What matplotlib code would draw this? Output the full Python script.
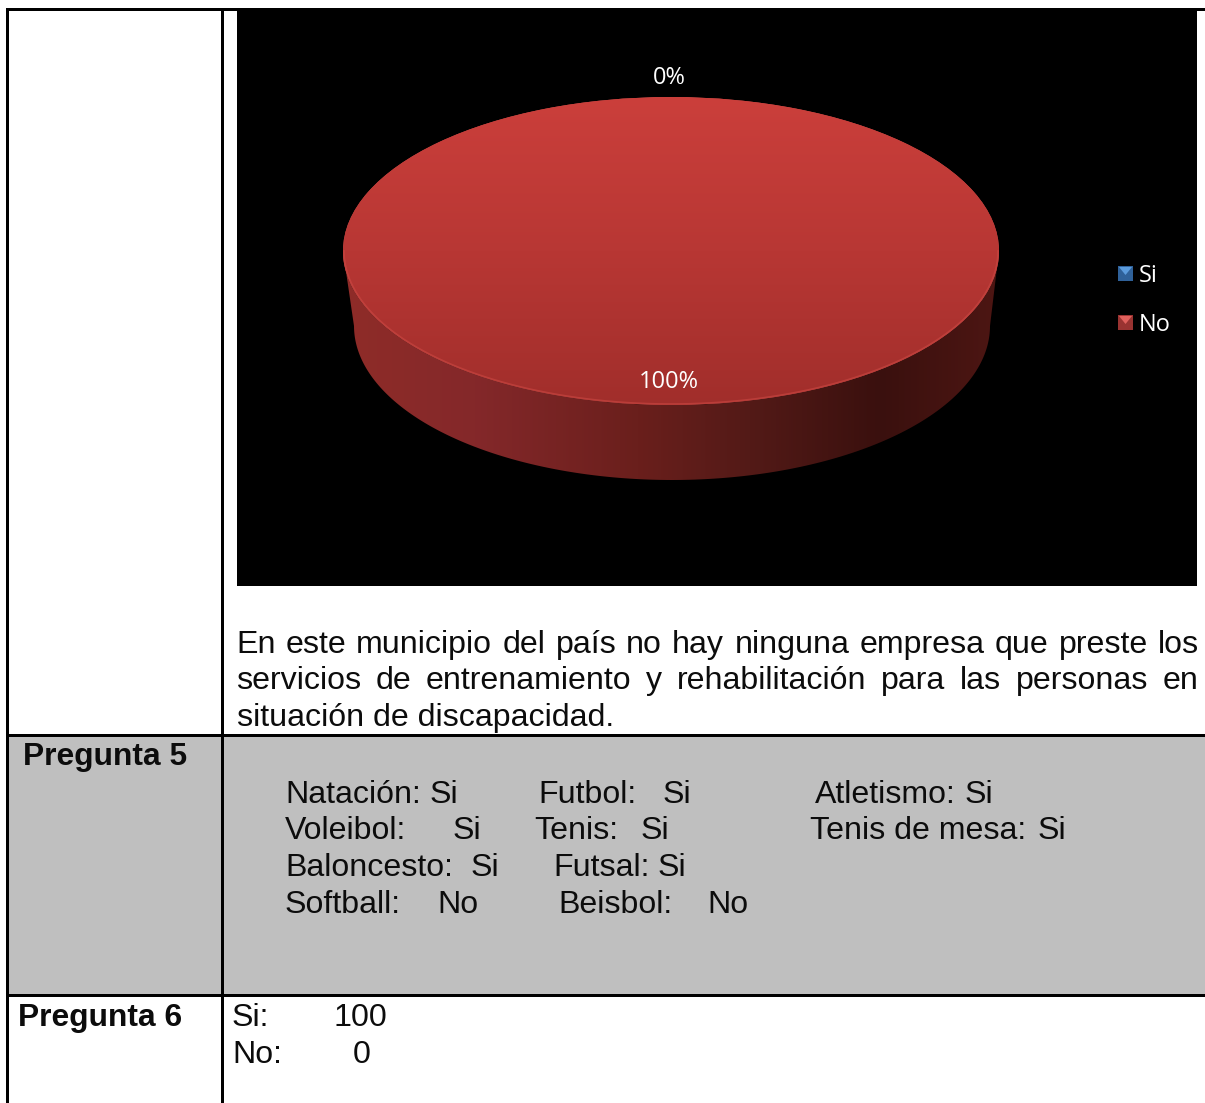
import numpy as np
import matplotlib
matplotlib.use("Agg")
import matplotlib.pyplot as plt
from matplotlib.colors import LinearSegmentedColormap
from matplotlib.patches import Rectangle, Polygon

W, H = 1205, 1103

# ------------------------
# Data
# ------------------------

pie_labels = ["Si", "No"]
pie_values = [0, 100]
pie_texts = ["0%", "100%"]

paragraph = [
    "En este municipio del país no hay ninguna empresa que preste los",
    "servicios de entrenamiento y rehabilitación para las personas en",
    "situación de discapacidad.",
]
row_labels = ["Pregunta 5", "Pregunta 6"]
# label, label x, answer, answer x
col_1 = ["Natación:", "Voleibol:", "Baloncesto:", "Softball:"]
col_1_x = [285, 285, 285, 285]
col_1_ans = ["Si", "Si", "Si", "No"]
col_1_ans_x = [430, 453, 471, 437]
col_2 = ["Futbol:", "Tenis:", "Futsal:", "Beisbol:"]
col_2_x = [538, 534, 553, 558]
col_2_ans = ["Si", "Si", "Si", "No"]
col_2_ans_x = [663, 641, 658, 707]
col_3 = ["Atletismo:", "Tenis de mesa:"]
col_3_x = [815, 810]
col_3_ans = ["Si", "Si"]
col_3_ans_x = [965, 1038]
answers = ["Si:", "No:"]
answer_values = ["100", "0"]

fig = plt.figure(figsize=(W / 100, H / 100), dpi=100, facecolor="white")
ax = fig.add_axes([0, 0, 1, 1])
ax.set_xlim(0, W)
ax.set_ylim(H, 0)
ax.axis("off")

# ------------------------
# Table
# ------------------------

ax.add_patch(Rectangle((9, 737), W - 9, 257, fc="#bfbfbf", ec="none", zorder=1))
ax.add_patch(Rectangle((237, 11), 960, 575, fc="black", ec="none", zorder=1))

for x0, y0, x1, y1 in [(6, 8, W, 11), (6, 734, W, 737), (6, 994, W, 997),
                       (6, 8, 9, H), (221, 8, 224, H)]:
    ax.add_patch(Rectangle((x0, y0), x1 - x0, y1 - y0, fc="black", ec="none", zorder=2))

# ------------------------
# Pie
# ------------------------

cx, cy, rx, ry = 671, 251, 328, 154
bcx, bcy, brx, bry = 672, 326, 318, 154

t = np.linspace(0, np.pi, 200)
wall = np.vstack([
    np.column_stack([cx + rx * np.cos(t), cy + ry * np.sin(t)]),
    np.column_stack([bcx + brx * np.cos(t[::-1]), bcy + bry * np.sin(t[::-1])]),
])
wall_poly = Polygon(wall, closed=True, fc="none", ec="none", transform=ax.transData)
ax.add_patch(wall_poly)
wall_cmap = LinearSegmentedColormap.from_list("wall", [
    (0.0, "#8f2c28"), (0.2, "#84282a"), (0.45, "#6a1f1c"),
    (0.62, "#531a17"), (0.82, "#3a100e"), (1.0, "#4d1613"),
])
wall_img = ax.imshow(np.linspace(0, 1, 256).reshape(1, -1), cmap=wall_cmap, aspect="auto",
                     extent=(cx - rx, cx + rx, 490, 240), zorder=3)
wall_img.set_clip_path(wall_poly)
ax.set_xlim(0, W)
ax.set_ylim(H, 0)

# pie is drawn in its own axes so the circle gets squashed into the tilted ellipse
pie_ax = fig.add_axes([(cx - rx) / W, 1 - (cy + ry) / H, 2 * rx / W, 2 * ry / H])
wedges, _ = pie_ax.pie(pie_values, colors=["#4f81bd", "#c0504d"], startangle=90,
                       radius=1, wedgeprops={"linewidth": 0}, normalize=True)
pie_ax.set_aspect("auto")
pie_ax.set_xlim(-1, 1)
pie_ax.set_ylim(-1, 1)
pie_ax.patch.set_alpha(0)
top_cmap = LinearSegmentedColormap.from_list("top", ["#cb3f3b", "#b83734", "#a12e2b"])
top_img = pie_ax.imshow(np.linspace(0, 1, 256).reshape(-1, 1), cmap=top_cmap, aspect="auto",
                        extent=(-1, 1, -1, 1), origin="upper", zorder=5)
top_img.set_clip_path(wedges[1])
pie_ax.set_xlim(-1, 1)
pie_ax.set_ylim(-1, 1)
pie_ax.set_axis_off()

# light rim along the front of the top face
rim = np.column_stack([cx + (rx - 1) * np.cos(t), cy + (ry - 1) * np.sin(t)])
ax.set_zorder(pie_ax.get_zorder() - 1)
over = fig.add_axes([0, 0, 1, 1], facecolor="none")
over.set_xlim(0, W)
over.set_ylim(H, 0)
over.axis("off")
over.plot(rim[:, 0], rim[:, 1], color="#cf4a45", lw=1.2, alpha=0.55)

over.text(669, 78, pie_texts[0], color="white", fontsize=17, family="Open Sans",
          ha="center", va="center")
over.text(669, 382, pie_texts[1], color="white", fontsize=17, family="Open Sans",
          ha="center", va="center")

# ------------------------
# Legend
# ------------------------

legend_y = [274, 323]
legend_colors = [("#2f6199", "#5b9bdc"), ("#993331", "#e0605c")]
for label, y, (dark, light) in zip(pie_labels, legend_y, legend_colors):
    over.add_patch(Rectangle((1118, y - 8), 15, 15, fc=dark, ec="none"))
    over.add_patch(Polygon([(1119, y - 7), (1132, y - 7), (1125.5, y + 1)], fc=light, ec="none"))
    over.text(1139, y + 2, label, color="white", fontsize=17, family="Open Sans", va="center")

# ------------------------
# Text
# ------------------------

body = dict(color="#0c0c0c", fontsize=23.1, family="Liberation Sans", va="baseline")

renderer = fig.canvas.get_renderer()
for i, line in enumerate(paragraph):
    y = [653, 689, 726][i]
    if i == 2:
        over.text(237, y, line, **body)
        continue
    # justified: stretch the gaps so every line reaches the right edge
    words = line.split(" ")
    items = [over.text(0, y, w, **body) for w in words]
    widths = [it.get_window_extent(renderer).width for it in items]
    gap = (1199 - 236 - sum(widths)) / (len(words) - 1)
    x = 236
    for it, w in zip(items, widths):
        it.set_x(round(x))
        x += w + gap

row_y = [803, 839, 876, 913]
for i in range(4):
    over.text(col_1_x[i], row_y[i], col_1[i], **body)
    over.text(col_1_ans_x[i], row_y[i], col_1_ans[i], **body)
    over.text(col_2_x[i], row_y[i], col_2[i], **body)
    over.text(col_2_ans_x[i], row_y[i], col_2_ans[i], **body)
for i in range(2):
    over.text(col_3_x[i], row_y[i], col_3[i], **body)
    over.text(col_3_ans_x[i], row_y[i], col_3_ans[i], **body)

over.text(23, 765, row_labels[0], color="#0c0c0c", fontsize=22.9, fontweight="bold",
          family="Liberation Sans", va="baseline")
over.text(18, 1026, row_labels[1], color="#0c0c0c", fontsize=22.9, fontweight="bold",
          family="Liberation Sans", va="baseline")

over.text(232, 1026, answers[0], **body)
over.text(333, 1026, answer_values[0], **body)
over.text(232, 1063, answers[1], **body)
over.text(353, 1063, answer_values[1], **body)

fig.savefig("out.png", dpi=100)
